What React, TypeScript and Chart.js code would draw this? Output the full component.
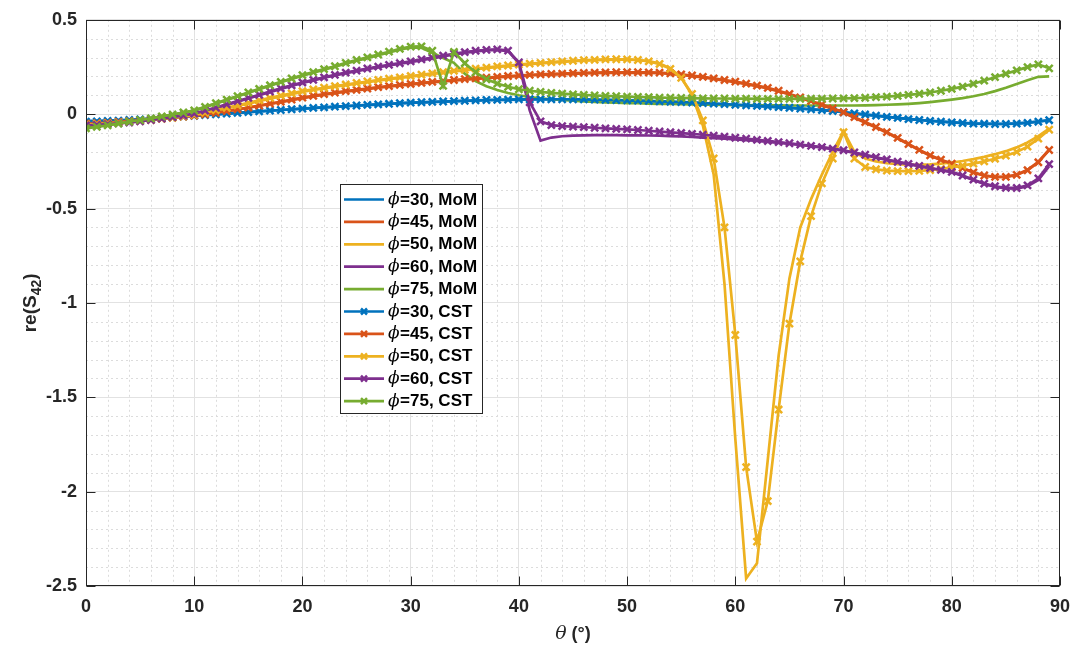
import { useEffect, useRef } from "react";
import { Chart, registerables } from "chart.js";

Chart.register(...registerables);

// Incidence angle grid (degrees)
const THETA = [
  0, 1, 2, 3, 4, 5, 6, 7, 8, 9, 10, 11, 12, 13, 14, 15, 16, 17, 18, 19,
  20, 21, 22, 23, 24, 25, 26, 27, 28, 29, 30, 31, 32, 33, 34, 35, 36, 37, 38, 39,
  40, 41, 42, 43, 44, 45, 46, 47, 48, 49, 50, 51, 52, 53, 54, 55, 56, 57, 58, 59,
  60, 61, 62, 63, 64, 65, 66, 67, 68, 69, 70, 71, 72, 73, 74, 75, 76, 77, 78, 79,
  80, 81, 82, 83, 84, 85, 86, 87, 88, 89,
];

const PHI_VALUES = ["30", "45", "50", "60", "75"];
const X_TICK_VALUES = [0, 10, 20, 30, 40, 50, 60, 70, 80, 90];
const X_TICK_LABELS = ["0", "10", "20", "30", "40", "50", "60", "70", "80", "90"];
const Y_TICK_VALUES = [-2.5, -2, -1.5, -1, -0.5, 0, 0.5];
const Y_TICK_LABELS = ["-2.5", "-2", "-1.5", "-1", "-0.5", "0", "0.5"];

// re(S42), method of moments
const phi30Mom = [
  -0.036, -0.035, -0.034, -0.032, -0.030, -0.027, -0.024, -0.020, -0.016, -0.012,
  -0.009, -0.005, -0.001, 0.003, 0.007, 0.011, 0.015, 0.018, 0.022, 0.025,
  0.029, 0.032, 0.036, 0.039, 0.042, 0.045, 0.048, 0.051, 0.054, 0.057,
  0.060, 0.062, 0.064, 0.066, 0.068, 0.070, 0.072, 0.074, 0.075, 0.076,
  0.077, 0.078, 0.078, 0.078, 0.078, 0.077, 0.077, 0.076, 0.075, 0.074,
  0.072, 0.071, 0.069, 0.067, 0.065, 0.063, 0.061, 0.058, 0.055, 0.052,
  0.049, 0.046, 0.043, 0.040, 0.036, 0.033, 0.029, 0.025, 0.021, 0.016,
  0.010, 0.004, -0.002, -0.008, -0.014, -0.020, -0.025, -0.030, -0.035, -0.039,
  -0.043, -0.046, -0.049, -0.050, -0.051, -0.051, -0.049, -0.045, -0.039, -0.031,
];
const phi45Mom = [
  -0.047, -0.045, -0.043, -0.040, -0.036, -0.032, -0.028, -0.023, -0.018, -0.012,
  -0.007, 0.000, 0.008, 0.016, 0.025, 0.034, 0.044, 0.054, 0.064, 0.074,
  0.085, 0.094, 0.103, 0.111, 0.119, 0.126, 0.133, 0.140, 0.146, 0.152,
  0.157, 0.163, 0.168, 0.173, 0.178, 0.183, 0.187, 0.191, 0.195, 0.199,
  0.202, 0.205, 0.208, 0.210, 0.212, 0.214, 0.216, 0.217, 0.218, 0.219,
  0.219, 0.219, 0.218, 0.217, 0.213, 0.208, 0.202, 0.195, 0.187, 0.178,
  0.169, 0.159, 0.148, 0.136, 0.121, 0.104, 0.086, 0.067, 0.048, 0.028,
  0.007, -0.019, -0.045, -0.071, -0.098, -0.129, -0.160, -0.191, -0.220, -0.243,
  -0.264, -0.287, -0.309, -0.326, -0.333, -0.332, -0.321, -0.295, -0.252, -0.188,
];
const phi50Mom = [
  -0.052, -0.050, -0.047, -0.044, -0.040, -0.035, -0.030, -0.025, -0.019, -0.012,
  -0.005, 0.006, 0.018, 0.030, 0.043, 0.056, 0.069, 0.082, 0.094, 0.106,
  0.118, 0.128, 0.137, 0.146, 0.154, 0.162, 0.170, 0.178, 0.185, 0.192,
  0.199, 0.206, 0.213, 0.219, 0.226, 0.232, 0.238, 0.244, 0.250, 0.255,
  0.260, 0.265, 0.269, 0.273, 0.277, 0.281, 0.284, 0.286, 0.288, 0.289,
  0.289, 0.287, 0.281, 0.268, 0.243, 0.195, 0.100, -0.060, -0.320, -0.900,
  -1.720, -2.460, -2.380, -1.830, -1.280, -0.870, -0.600, -0.450, -0.320, -0.200,
  -0.090, -0.200, -0.235, -0.250, -0.260, -0.265, -0.268, -0.268, -0.266, -0.262,
  -0.256, -0.248, -0.238, -0.226, -0.212, -0.196, -0.176, -0.150, -0.116, -0.076,
];
const phi60Mom = [
  -0.058, -0.055, -0.052, -0.048, -0.043, -0.037, -0.031, -0.024, -0.016, -0.008,
  0.001, 0.016, 0.032, 0.049, 0.066, 0.083, 0.100, 0.117, 0.134, 0.150,
  0.165, 0.179, 0.193, 0.205, 0.217, 0.228, 0.239, 0.249, 0.258, 0.267,
  0.276, 0.286, 0.296, 0.306, 0.316, 0.325, 0.333, 0.338, 0.340, 0.334,
  0.270, 0.020, -0.140, -0.124, -0.117, -0.114, -0.112, -0.111, -0.111, -0.111,
  -0.112, -0.112, -0.113, -0.114, -0.116, -0.118, -0.121, -0.124, -0.127, -0.130,
  -0.134, -0.138, -0.142, -0.147, -0.152, -0.157, -0.163, -0.170, -0.177, -0.185,
  -0.193, -0.205, -0.217, -0.230, -0.242, -0.254, -0.265, -0.276, -0.287, -0.297,
  -0.308, -0.327, -0.349, -0.370, -0.385, -0.393, -0.394, -0.382, -0.348, -0.275,
];
const phi75Mom = [
  -0.072, -0.065, -0.057, -0.049, -0.040, -0.031, -0.022, -0.012, -0.002, 0.009,
  0.019, 0.037, 0.056, 0.075, 0.094, 0.113, 0.132, 0.151, 0.169, 0.187,
  0.204, 0.220, 0.236, 0.251, 0.268, 0.283, 0.297, 0.312, 0.327, 0.342,
  0.354, 0.352, 0.325, 0.298, 0.272, 0.215, 0.175, 0.148, 0.128, 0.112,
  0.100, 0.091, 0.084, 0.079, 0.075, 0.071, 0.068, 0.065, 0.063, 0.061,
  0.059, 0.058, 0.056, 0.055, 0.054, 0.053, 0.052, 0.051, 0.050, 0.049,
  0.048, 0.048, 0.047, 0.047, 0.047, 0.046, 0.046, 0.046, 0.046, 0.046,
  0.046, 0.046, 0.047, 0.048, 0.050, 0.052, 0.055, 0.059, 0.064, 0.070,
  0.077, 0.085, 0.095, 0.107, 0.122, 0.140, 0.160, 0.180, 0.198, 0.200,
];

// re(S42), CST simulation
const phi30Cst = [
  -0.040, -0.038, -0.036, -0.034, -0.031, -0.028, -0.025, -0.021, -0.017, -0.013,
  -0.009, -0.005, -0.001, 0.003, 0.007, 0.011, 0.015, 0.019, 0.022, 0.026,
  0.029, 0.033, 0.036, 0.040, 0.043, 0.046, 0.049, 0.052, 0.055, 0.058,
  0.061, 0.063, 0.065, 0.067, 0.069, 0.071, 0.073, 0.075, 0.076, 0.077,
  0.078, 0.079, 0.079, 0.079, 0.079, 0.078, 0.078, 0.077, 0.076, 0.075,
  0.073, 0.072, 0.070, 0.068, 0.066, 0.064, 0.062, 0.059, 0.056, 0.053,
  0.050, 0.047, 0.044, 0.041, 0.037, 0.034, 0.030, 0.026, 0.022, 0.017,
  0.010, 0.004, -0.002, -0.008, -0.014, -0.020, -0.026, -0.031, -0.036, -0.040,
  -0.044, -0.047, -0.050, -0.051, -0.052, -0.052, -0.050, -0.046, -0.040, -0.032,
];
const phi45Cst = [
  -0.050, -0.048, -0.045, -0.041, -0.037, -0.033, -0.028, -0.023, -0.018, -0.013,
  -0.008, -0.001, 0.007, 0.016, 0.025, 0.035, 0.046, 0.056, 0.066, 0.077,
  0.088, 0.097, 0.106, 0.114, 0.122, 0.129, 0.136, 0.143, 0.149, 0.155,
  0.160, 0.166, 0.171, 0.176, 0.181, 0.186, 0.190, 0.194, 0.198, 0.202,
  0.205, 0.208, 0.211, 0.213, 0.215, 0.217, 0.219, 0.220, 0.221, 0.222,
  0.222, 0.222, 0.221, 0.220, 0.216, 0.211, 0.205, 0.198, 0.190, 0.181,
  0.172, 0.162, 0.151, 0.139, 0.124, 0.107, 0.089, 0.070, 0.051, 0.031,
  0.010, -0.016, -0.042, -0.068, -0.095, -0.126, -0.158, -0.189, -0.218, -0.241,
  -0.262, -0.285, -0.308, -0.325, -0.332, -0.332, -0.322, -0.297, -0.255, -0.190,
];
const phi50Cst = [
  -0.055, -0.052, -0.049, -0.045, -0.041, -0.036, -0.031, -0.025, -0.019, -0.012,
  -0.004, 0.008, 0.021, 0.034, 0.047, 0.060, 0.073, 0.086, 0.098, 0.110,
  0.122, 0.131, 0.140, 0.149, 0.157, 0.165, 0.173, 0.181, 0.188, 0.195,
  0.202, 0.209, 0.216, 0.222, 0.229, 0.235, 0.241, 0.247, 0.253, 0.258,
  0.263, 0.268, 0.272, 0.276, 0.280, 0.283, 0.286, 0.288, 0.290, 0.291,
  0.290, 0.287, 0.280, 0.266, 0.240, 0.192, 0.107, -0.033, -0.235, -0.600,
  -1.170, -1.870, -2.265, -2.050, -1.565, -1.110, -0.780, -0.540, -0.367, -0.235,
  -0.095, -0.235, -0.280, -0.292, -0.299, -0.302, -0.302, -0.300, -0.296, -0.290,
  -0.282, -0.273, -0.262, -0.250, -0.236, -0.220, -0.200, -0.172, -0.130, -0.082,
];
const phi60Cst = [
  -0.060, -0.057, -0.053, -0.049, -0.044, -0.038, -0.031, -0.024, -0.016, -0.007,
  0.003, 0.019, 0.035, 0.052, 0.069, 0.086, 0.103, 0.120, 0.137, 0.153,
  0.168, 0.182, 0.195, 0.208, 0.220, 0.231, 0.242, 0.252, 0.261, 0.270,
  0.280, 0.290, 0.300, 0.310, 0.320, 0.329, 0.336, 0.341, 0.343, 0.337,
  0.274, 0.063, -0.038, -0.058, -0.063, -0.066, -0.069, -0.072, -0.075, -0.078,
  -0.081, -0.084, -0.088, -0.092, -0.096, -0.100, -0.104, -0.109, -0.114, -0.119,
  -0.125, -0.130, -0.136, -0.142, -0.148, -0.154, -0.161, -0.168, -0.175, -0.183,
  -0.191, -0.203, -0.215, -0.228, -0.240, -0.252, -0.263, -0.274, -0.285, -0.295,
  -0.306, -0.325, -0.347, -0.368, -0.382, -0.390, -0.391, -0.377, -0.340, -0.265,
];
const phi75Cst = [
  -0.075, -0.067, -0.059, -0.050, -0.040, -0.031, -0.022, -0.012, -0.002, 0.009,
  0.020, 0.039, 0.058, 0.077, 0.096, 0.115, 0.134, 0.153, 0.171, 0.189,
  0.207, 0.223, 0.239, 0.254, 0.272, 0.287, 0.301, 0.316, 0.331, 0.346,
  0.358, 0.359, 0.336, 0.150, 0.330, 0.270, 0.222, 0.185, 0.162, 0.145,
  0.132, 0.124, 0.118, 0.113, 0.109, 0.105, 0.102, 0.099, 0.097, 0.095,
  0.093, 0.091, 0.090, 0.088, 0.087, 0.086, 0.085, 0.084, 0.083, 0.083,
  0.082, 0.082, 0.081, 0.081, 0.081, 0.081, 0.081, 0.082, 0.082, 0.083,
  0.084, 0.085, 0.087, 0.090, 0.093, 0.097, 0.102, 0.108, 0.115, 0.124,
  0.134, 0.146, 0.161, 0.178, 0.196, 0.214, 0.232, 0.249, 0.264, 0.243,
];

const MOM_SERIES = [phi30Mom, phi45Mom, phi50Mom, phi60Mom, phi75Mom];
const CST_SERIES = [phi30Cst, phi45Cst, phi50Cst, phi60Cst, phi75Cst];
const COLORS = ["#0072BD", "#D95319", "#EDB120", "#7E2F8E", "#77AC30"];

const AXIS_COLOR = "#262626";
const SANS = '"Liberation Sans", Arial, Helvetica, sans-serif';
const SERIF = '"DejaVu Serif", "Liberation Serif", serif';

const W = 1080;
const H = 647;

// Dotted minor grid, boxed axes with inward ticks, axis titles and the inset legend
const decorations = {
  id: "decorations",
  beforeDatasetsDraw(chart: any) {
    const { ctx, chartArea: a, scales } = chart;
    const xs = scales.x;
    const ys = scales.y;
    ctx.save();
    ctx.strokeStyle = "#dcdcdc";
    ctx.lineWidth = 1;
    ctx.setLineDash([2, 3]);
    for (let v = 2; v < 90; v += 2) {
      if (v % 10 === 0) continue;
      const px = Math.round(xs.getPixelForValue(v)) + 0.5;
      ctx.beginPath();
      ctx.moveTo(px, a.top);
      ctx.lineTo(px, a.bottom);
      ctx.stroke();
    }
    for (let k = -24; k < 5; k++) {
      if (k % 5 === 0) continue;
      const py = Math.round(ys.getPixelForValue(k / 10)) + 0.5;
      ctx.beginPath();
      ctx.moveTo(a.left, py);
      ctx.lineTo(a.right, py);
      ctx.stroke();
    }
    ctx.restore();
  },
  afterDraw(chart: any) {
    const { ctx, chartArea: a, scales } = chart;
    const xs = scales.x;
    const ys = scales.y;
    ctx.save();
    // box
    ctx.strokeStyle = AXIS_COLOR;
    ctx.lineWidth = 1;
    ctx.setLineDash([]);
    const L = Math.round(a.left) + 0.5;
    const R = Math.round(a.right) - 0.5;
    const T = Math.round(a.top) + 0.5;
    const B = Math.round(a.bottom) - 0.5;
    ctx.strokeRect(L, T, R - L, B - T);
    // inward ticks
    const tl = 9;
    ctx.beginPath();
    for (const v of X_TICK_VALUES) {
      const px = Math.round(xs.getPixelForValue(v)) + 0.5;
      ctx.moveTo(px, B);
      ctx.lineTo(px, B - tl);
      ctx.moveTo(px, T);
      ctx.lineTo(px, T + tl);
    }
    for (const v of Y_TICK_VALUES) {
      const py = Math.round(ys.getPixelForValue(v)) + 0.5;
      ctx.moveTo(L, py);
      ctx.lineTo(L + tl, py);
      ctx.moveTo(R, py);
      ctx.lineTo(R - tl, py);
    }
    ctx.stroke();

    // x title: θ (°)
    ctx.fillStyle = AXIS_COLOR;
    ctx.textBaseline = "middle";
    const thetaFont = `italic 19px ${SERIF}`;
    const restFont = `bold 18px ${SANS}`;
    ctx.font = thetaFont;
    const wTheta = ctx.measureText("θ").width;
    ctx.font = restFont;
    const wRest = ctx.measureText(" (°)").width;
    const cx = (a.left + a.right) / 2;
    const x0 = cx - (wTheta + wRest) / 2;
    ctx.textAlign = "left";
    ctx.font = thetaFont;
    ctx.fillText("θ", x0, 634);
    ctx.font = restFont;
    ctx.fillText(" (°)", x0 + wTheta, 634);

    // y title: re(S42) with subscript
    ctx.save();
    ctx.translate(30, (a.top + a.bottom) / 2);
    ctx.rotate(-Math.PI / 2);
    const mainFont = `bold 19px ${SANS}`;
    const subFont = `bold 14px ${SANS}`;
    ctx.font = mainFont;
    const w1 = ctx.measureText("re(S").width;
    const w3 = ctx.measureText(")").width;
    ctx.font = subFont;
    const w2 = ctx.measureText("42").width;
    const sx = -(w1 + w2 + w3) / 2;
    ctx.textBaseline = "alphabetic";
    ctx.font = mainFont;
    ctx.fillText("re(S", sx, 6);
    ctx.font = subFont;
    ctx.fillText("42", sx + w1, 11);
    ctx.font = mainFont;
    ctx.fillText(")", sx + w1 + w2, 6);
    ctx.restore();

    // legend
    const box = { left: 340, top: 184, right: 483, bottom: 414 };
    ctx.fillStyle = "#ffffff";
    ctx.fillRect(box.left, box.top, box.right - box.left, box.bottom - box.top);
    ctx.strokeStyle = AXIS_COLOR;
    ctx.lineWidth = 1;
    ctx.strokeRect(box.left + 0.5, box.top + 0.5, box.right - box.left - 1, box.bottom - box.top - 1);
    const rowStep = 22.4;
    const firstRow = box.top + 15.5;
    chart.data.datasets.forEach((ds: any, i: number) => {
      const y = firstRow + i * rowStep;
      ctx.strokeStyle = ds.borderColor;
      ctx.lineWidth = 2.7;
      ctx.beginPath();
      ctx.moveTo(344, y);
      ctx.lineTo(384, y);
      ctx.stroke();
      if (ds.pointRadius > 0) {
        const r = 3;
        ctx.lineWidth = 2.5;
        ctx.beginPath();
        ctx.moveTo(364 - r, y - r);
        ctx.lineTo(364 + r, y + r);
        ctx.moveTo(364 + r, y - r);
        ctx.lineTo(364 - r, y + r);
        ctx.stroke();
      }
      const [sym, ...rest] = Array.from(ds.label as string);
      ctx.fillStyle = "#000000";
      ctx.textBaseline = "middle";
      ctx.textAlign = "left";
      ctx.font = `italic 17px ${SERIF}`;
      ctx.fillText(sym, 388, y);
      const ws = ctx.measureText(sym).width;
      ctx.font = `bold 17px ${SANS}`;
      ctx.fillText(rest.join(""), 388 + ws + 0.5, y + 0.5);
    });
    ctx.restore();
  },
};

function buildDatasets() {
  const sets: any[] = [];
  MOM_SERIES.forEach((vals, i) => {
    sets.push({
      label: `ϕ=${PHI_VALUES[i]}, MoM`,
      data: THETA.map((t, k) => ({ x: t, y: vals[k] })),
      borderColor: COLORS[i],
      backgroundColor: COLORS[i],
      borderWidth: 2.7,
      pointRadius: 0,
      pointHoverRadius: 0,
    });
  });
  CST_SERIES.forEach((vals, i) => {
    sets.push({
      label: `ϕ=${PHI_VALUES[i]}, CST`,
      data: THETA.map((t, k) => ({ x: t, y: vals[k] })),
      borderColor: COLORS[i],
      backgroundColor: COLORS[i],
      borderWidth: 2.7,
      pointStyle: "crossRot",
      pointRadius: 5,
      pointBorderWidth: 2.5,
      pointBorderColor: COLORS[i],
      pointBackgroundColor: COLORS[i],
      pointHoverRadius: 5,
    });
  });
  // later series are painted over earlier ones
  sets.forEach((s, idx) => {
    s.order = sets.length - idx;
  });
  return sets;
}

function tickLabel(values: number[], labels: string[], v: number) {
  const i = values.findIndex((t) => Math.abs(t - v) < 1e-9);
  return i >= 0 ? labels[i] : "";
}

export default function App() {
  const canvasRef = useRef<HTMLCanvasElement | null>(null);

  useEffect(() => {
    document.body.style.margin = "0";
    const canvas = canvasRef.current;
    if (!canvas) return;
    const chart = new Chart(canvas, {
      type: "line",
      data: { datasets: buildDatasets() },
      options: {
        animation: false,
        responsive: false,
        devicePixelRatio: 1,
        layout: { padding: { left: 0, top: 17, right: 15, bottom: 0 } },
        plugins: {
          legend: { display: false },
          tooltip: { enabled: false },
        },
        elements: { line: { tension: 0 } },
        scales: {
          x: {
            type: "linear",
            min: 0,
            max: 90,
            border: { display: false },
            grid: { color: "#e2e2e2", lineWidth: 1, drawTicks: false },
            ticks: {
              stepSize: 10,
              padding: 10,
              color: AXIS_COLOR,
              font: { family: SANS, size: 18, weight: "bold" },
              maxRotation: 0,
              callback: (v: any) => tickLabel(X_TICK_VALUES, X_TICK_LABELS, Number(v)),
            },
            afterFit: (scale: any) => {
              scale.height = 61;
            },
          },
          y: {
            type: "linear",
            min: -2.5,
            max: 0.5,
            border: { display: false },
            grid: { color: "#e2e2e2", lineWidth: 1, drawTicks: false },
            ticks: {
              stepSize: 0.5,
              padding: 9,
              color: AXIS_COLOR,
              font: { family: SANS, size: 18, weight: "bold" },
              callback: (v: any) => tickLabel(Y_TICK_VALUES, Y_TICK_LABELS, Number(v)),
            },
            afterFit: (scale: any) => {
              scale.width = 86;
            },
          },
        },
      } as any,
      plugins: [decorations],
    });
    return () => chart.destroy();
  }, []);

  return (
    <div style={{ width: W, height: H, background: "#ffffff" }}>
      <canvas ref={canvasRef} width={W} height={H} style={{ display: "block" }} />
    </div>
  );
}
